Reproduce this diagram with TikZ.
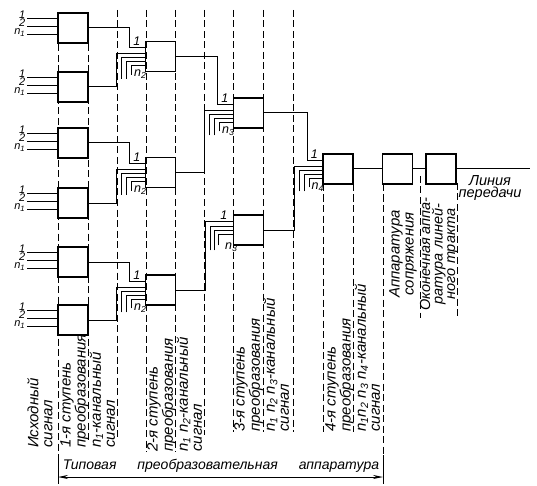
\documentclass[tikz,border=0pt]{standalone}
\usepackage{fontspec}
\setmainfont{Liberation Sans}
\usetikzlibrary{calc,arrows.meta}
\newcommand{\nsub}[1]{n\textsubscript{#1}}
\begin{document}
\begin{tikzpicture}[x=1pt, y=-1pt, >={Stealth[length=10pt,width=4pt]},
		font=\itshape\fontsize{15}{14}\selectfont,
		blk/.style={draw, line width=1.2pt, minimum width=30pt, minimum height=30pt, inner sep=0pt},
		wire/.style={line width=1pt},
		sep/.style={line width=0.7pt, dash pattern=on 7pt off 3.5pt},
		lbl/.style={inner sep=0pt, font=\itshape\fontsize{12.5}{12}\selectfont},
		inlbl/.style={inner sep=0pt, text height=7pt, text depth=0pt, font=\itshape\fontsize{11}{11}\selectfont},
		vtext/.style={rotate=90, anchor=north west, align=left, inner sep=0pt}]
	\useasboundingbox (0,0) rectangle (537,486);
	\foreach \x/\ya/\yb in {58/13/455, 88/13/440, 117/10/440, 146/10/452, 175/10/452, 204/10/435, 233/10/432, 263/10/432, 293/10/432, 323/184/432, 353/184/432, 383/184/455, 420/176/318, 457/183/318}
		\draw[sep] (\x,\ya) -- (\x,\yb);
	\foreach \n/\y in {a/28, b/87, c/143, d/203, e/262, f/320}
		\node[blk] (s1\n) at (73,\y) {};
	\foreach \n/\y in {a/56.5, b/172.5, c/290}
		\node[blk] (s2\n) at (160.5,\y) {};
	\node[blk] (s3a) at (248.5,113) {};
	\node[blk] (s3b) at (248.5,230) {};
	\node[blk] (s4) at (338,169) {};
	\node[blk] (sopr) at (397.5,169) {};
	\node[blk] (okon) at (441,169) {};
	\foreach \n in {a,...,f}
		\foreach \dy/\lab in {6/1, 14/2, 22/\nsub{1}} {
			\draw[wire, line width=1.4pt] ($(s1\n.north west)+(-30,\dy)$) -- ($(s1\n.north west)+(0,\dy)$);
			\node[inlbl, anchor=base east] at ($(s1\n.north west)+(-32,\dy+0.5)$) {\lab};
		}
	\foreach \bx/\hi/\lo/\m in {s2a/s1a/s1b/2, s2b/s1c/s1d/2, s2c/s1e/s1f/2, s3a/s2a/s2b/3, s4/s3a/s3b/4} {
		\draw[wire] (\hi.east) -| ($(\bx.north west)+(-15,7)$) -- ($(\bx.north west)+(0,7)$);
		\draw[wire] (\lo.east) -| ($(\bx.north west)+(-28,13)$) -- ($(\bx.north west)+(0,13)$);
		\node[lbl, anchor=south] at ($(\bx.north west)+(-8,5)$) {1};
		\foreach \dx/\dy/\bot in {-23/17/38, -18/21/38, -13/25/34}
			\draw[wire] ($(\bx.north west)+(\dx,\bot)$) |- ($(\bx.north west)+(0,\dy)$);
		\node[lbl, anchor=north west] at ($(\bx.north west)+(-11,29)$) {\nsub{\m}};
	}
	\draw[wire] (s2c.east) -| ($(s3b.north west)+(-27,7)$) -- ($(s3b.north west)+(0,7)$);
	\node[lbl, anchor=south] at ($(s3b.north west)+(-9,5)$) {1};
	\foreach \dx/\dy/\bot in {-22/12/36, -18/16/36, -14/20/31}
		\draw[wire] ($(s3b.north west)+(\dx,\bot)$) |- ($(s3b.north west)+(0,\dy)$);
	\node[lbl, anchor=north west] at ($(s3b.north west)+(-8,28)$) {\nsub{3}};
	\coordinate (lineend) at (530,169);
	\draw[wire] (s4) -- (sopr) (sopr) -- (okon) (okon) -- (lineend);
	\node[align=center, anchor=north, inner sep=1pt, font=\itshape\fontsize{14.5}{12}\selectfont] (linelab) at (490,174) {Линия\\передачи};
	\node[vtext] (src) at (27,448) {Исходный\\сигнал};
	\node[vtext] (st1) at (60,448) {1-я ступень\\преобразования\\\nsub{1}-канальный\\сигнал};
	\node[vtext] (st2) at (147,452) {2-я ступень\\преобразования\\\nsub{1} \nsub{2}-канальный\\сигнал};
	\node[vtext] (st3) at (234,432) {3-я ступень\\преобразования\\\nsub{1} \nsub{2} \nsub{3}-канальный\\сигнал};
	\node[vtext] (st4) at (325,432) {4-я ступень\\преобразования\\\nsub{1}\nsub{2} \nsub{3} \nsub{4}-канальный\\сигнал};
	\node[vtext, anchor=center, align=center] (intf) at (403,254) {Аппаратура\\сопряжения};
	\node[vtext, anchor=center, align=center, font=\itshape\fontsize{14.5}{12.5}\selectfont] (term) at (439,254) {Оконечная аппа-\\ратура линей-\\ного тракта};
	\node[font=\itshape\fontsize{14}{14}\selectfont] (typ) at (221,466) {Типовая\hspace{21pt}преобразовательная\hspace{21pt}аппаратура};
	\coordinate (typl) at (58,477);
	\coordinate (typr) at (383,477);
	\draw[wire, <->] (typl) -- (typr);
	\draw[wire] ($(typl)+(0,-22)$) -- ($(typl)+(0,7)$) ($(typr)+(0,-22)$) -- ($(typr)+(0,7)$);
\end{tikzpicture}
\end{document}
